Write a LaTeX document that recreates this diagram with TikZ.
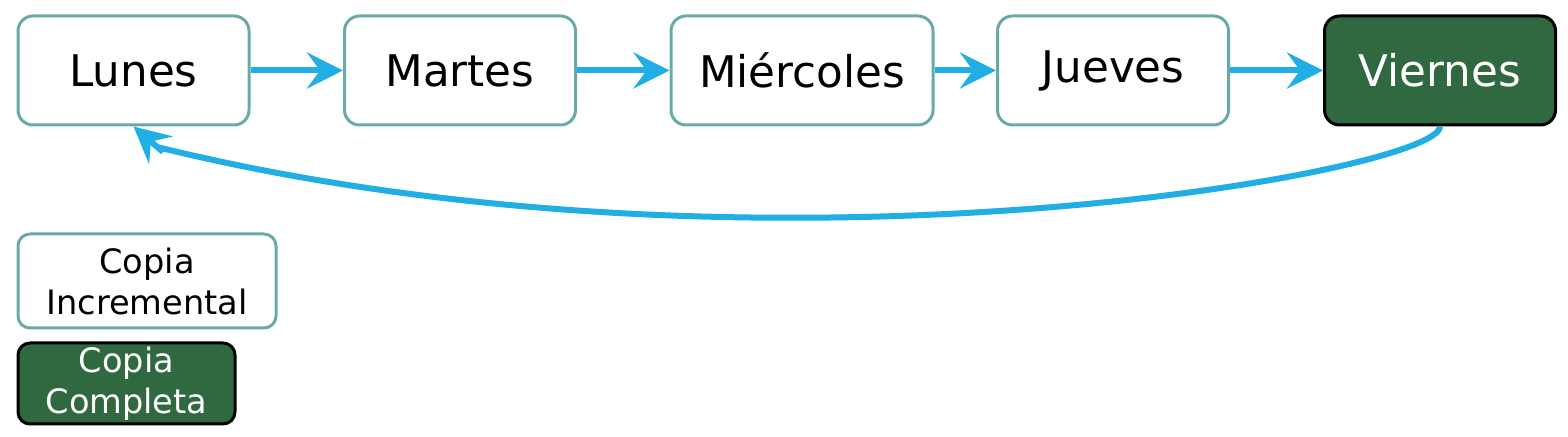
\documentclass[tikz,border=0pt]{standalone}
\usepackage{fontspec}
\setmainfont{DejaVu Sans}
\usetikzlibrary{arrows.meta}

\definecolor{cajaborde}{RGB}{106,170,166}
\definecolor{verde}{RGB}{48,104,64}
\definecolor{flecha}{RGB}{32,174,228}

\begin{document}
\begin{tikzpicture}[
		x=0.5pt, y=-0.5pt,
		dia/.style={rectangle, rounded corners=7.5pt, draw=cajaborde, line width=1.5pt,
			fill=white, inner sep=0pt, minimum width=115.5pt, minimum height=54.5pt,
			font=\fontsize{21.8}{26}\selectfont},
		completa/.style={draw=black, fill=verde, text=white},
		leyenda/.style={rectangle, rounded corners=6pt, draw=cajaborde, line width=1.5pt,
			fill=white, inner sep=0pt, align=center,
			font=\fontsize{16.8}{20.5}\selectfont},
		paso/.style={draw=flecha, line width=3pt,
			-{Stealth[length=18pt, width=18pt, inset=6.5pt]}}
	]
	\useasboundingbox (0,0) rectangle (1568,437);

	\node[dia] (lun) at (133.5,70.5) {Lunes};
	\node[dia] (mar) at (460,70.5) {Martes};
	\node[dia, minimum width=131pt] (mie) at (802,70.5) {Miércoles};
	\node[dia] (jue) at (1113,70.5) {Jueves};
	\node[dia, completa] (vie) at (1440,70.5) {Viernes};

	\foreach \from/\to in {
		lun/mar,
		mar/mie,
		mie/jue,
		jue/vie}
		\draw[paso] (\from) -- (\to);

	% vuelta de viernes a lunes
	\coordinate (fin) at (157,147);
	\coordinate (cola) at (163,152);
	\draw[draw=flecha, line width=3pt] (vie.south) .. controls (1440,172) and (758,295) .. (fin);
	\draw[paso] (cola) -- (lun.south);

	% leyenda
	\node[leyenda, minimum width=129pt, minimum height=47pt] (inc) at (147,281) {Copia\\Incremental};
	\node[leyenda, completa, minimum width=108.5pt, minimum height=40.5pt] (com) at (126.5,383.5) {Copia\\Completa};

\end{tikzpicture}
\end{document}
